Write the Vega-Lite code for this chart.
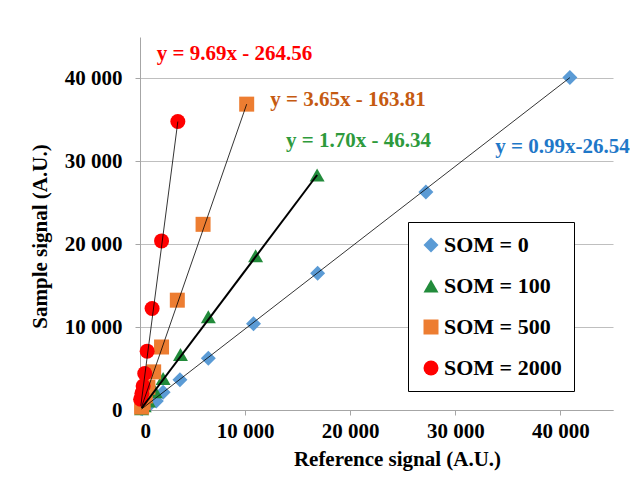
{
  "$schema": "https://vega.github.io/schema/vega-lite/v6.json",
  "width": 473,
  "height": 373,
  "autosize": {"type": "none"},
  "padding": {"left": 140, "top": 37, "right": 29, "bottom": 74},
  "background": "white",
  "config": {
    "view": {"stroke": null},
    "font": "Liberation Serif, Times New Roman, serif",
    "axis": {
      "labelFont": "Liberation Serif, Times New Roman, serif", "labelFontWeight": "bold", "labelFontSize": 21, "labelColor": "black",
      "titleFont": "Liberation Serif, Times New Roman, serif", "titleFontWeight": "bold", "titleFontSize": 21, "titleColor": "black",
      "domainColor": "#A6A6A6", "tickColor": "#A6A6A6", "tickSize": 5, "gridColor": "#BFBFBF", "gridWidth": 1
    }
  },
  "datasets": {
    "points": [
      {"series": "SOM = 0", "ref": 40900, "sample": 40100},
      {"series": "SOM = 0", "ref": 27200, "sample": 26300},
      {"series": "SOM = 0", "ref": 16900, "sample": 16500},
      {"series": "SOM = 0", "ref": 10800, "sample": 10400},
      {"series": "SOM = 0", "ref": 6500, "sample": 6250},
      {"series": "SOM = 0", "ref": 3800, "sample": 3650},
      {"series": "SOM = 0", "ref": 2200, "sample": 2150},
      {"series": "SOM = 0", "ref": 1550, "sample": 1100},
      {"series": "SOM = 0", "ref": 950, "sample": 700},
      {"series": "SOM = 0", "ref": 500, "sample": 400},
      {"series": "SOM = 0", "ref": 200, "sample": 150},
      {"series": "SOM = 100", "ref": 16850, "sample": 28350},
      {"series": "SOM = 100", "ref": 11000, "sample": 18600},
      {"series": "SOM = 100", "ref": 6500, "sample": 11250},
      {"series": "SOM = 100", "ref": 3850, "sample": 6700},
      {"series": "SOM = 100", "ref": 2200, "sample": 3800},
      {"series": "SOM = 100", "ref": 1450, "sample": 2200},
      {"series": "SOM = 100", "ref": 800, "sample": 1100},
      {"series": "SOM = 100", "ref": 400, "sample": 500},
      {"series": "SOM = 100", "ref": 150, "sample": 150},
      {"series": "SOM = 500", "ref": 10150, "sample": 36900},
      {"series": "SOM = 500", "ref": 6000, "sample": 22400},
      {"series": "SOM = 500", "ref": 3550, "sample": 13250},
      {"series": "SOM = 500", "ref": 2050, "sample": 7600},
      {"series": "SOM = 500", "ref": 1300, "sample": 4600},
      {"series": "SOM = 500", "ref": 750, "sample": 2750},
      {"series": "SOM = 500", "ref": 500, "sample": 1700},
      {"series": "SOM = 500", "ref": 300, "sample": 900},
      {"series": "SOM = 500", "ref": 150, "sample": 350},
      {"series": "SOM = 2000", "ref": 3600, "sample": 34800},
      {"series": "SOM = 2000", "ref": 2050, "sample": 20400},
      {"series": "SOM = 2000", "ref": 1150, "sample": 12250},
      {"series": "SOM = 2000", "ref": 680, "sample": 7100},
      {"series": "SOM = 2000", "ref": 450, "sample": 4400},
      {"series": "SOM = 2000", "ref": 300, "sample": 2900},
      {"series": "SOM = 2000", "ref": 180, "sample": 2000},
      {"series": "SOM = 2000", "ref": 60, "sample": 1300}
    ],
    "trend": [
      {"series": "SOM = 0", "ref": 150, "sample": 120},
      {"series": "SOM = 0", "ref": 40900, "sample": 40100},
      {"series": "SOM = 100", "ref": 150, "sample": 210},
      {"series": "SOM = 100", "ref": 16850, "sample": 28350},
      {"series": "SOM = 500", "ref": 150, "sample": 380},
      {"series": "SOM = 500", "ref": 10150, "sample": 36900},
      {"series": "SOM = 2000", "ref": 80, "sample": 510},
      {"series": "SOM = 2000", "ref": 3600, "sample": 34800}
    ],
    "labels": [
      {"series": "SOM = 2000", "label": "y = 9.69x - 264.56", "ref": 1600, "sample": 43000},
      {"series": "SOM = 500", "label": "y = 3.65x - 163.81", "ref": 12400, "sample": 37450},
      {"series": "SOM = 100", "label": "y = 1.70x - 46.34", "ref": 13900, "sample": 32450},
      {"series": "SOM = 0", "label": "y = 0.99x-26.54", "ref": 33800, "sample": 31700}
    ]
  },
  "encoding": {
    "x": {"field": "ref", "type": "quantitative",
      "scale": {"domain": [0, 45000], "nice": false},
      "axis": {"title": "Reference signal (A.U.)", "values": [0, 10000, 20000, 30000, 40000], "grid": false,
        "labelExpr": "replace(format(datum.value, ','), ',', ' ')", "labelPadding": 5, "titlePadding": 7, "titleX": 257}},
    "y": {"field": "sample", "type": "quantitative",
      "scale": {"domain": [0, 45000], "nice": false},
      "axis": {"title": "Sample signal (A.U.)", "values": [0, 10000, 20000, 30000, 40000], "grid": true,
        "labelExpr": "replace(format(datum.value, ','), ',', ' ')", "labelPadding": 13, "titlePadding": 14, "titleY": 199}}
  },
  "layer": [
    {
      "data": {"name": "points"},
      "mark": {"type": "point", "filled": true, "opacity": 1, "strokeWidth": 0},
      "encoding": {
        "color": {"field": "series", "type": "nominal",
          "scale": {"domain": ["SOM = 0", "SOM = 100", "SOM = 500", "SOM = 2000"], "range": ["#5B9BD5", "#228B3B", "#ED7D31", "#FF0000"]},
          "legend": {"title": null, "orient": "none", "legendX": 268, "legendY": 185,
            "strokeColor": "black", "fillColor": "white", "padding": 12,
            "labelFont": "Liberation Serif, Times New Roman, serif", "labelFontWeight": "bold", "labelFontSize": 22, "labelColor": "black",
            "rowPadding": 19, "symbolSize": 110, "symbolStrokeWidth": 0, "labelOffset": 2, "labelLimit": 300}},
        "shape": {"field": "series", "type": "nominal",
          "scale": {"domain": ["SOM = 0", "SOM = 100", "SOM = 500", "SOM = 2000"], "range": ["diamond", "triangle-up", "square", "circle"]},
          "legend": {"title": null, "orient": "none", "legendX": 268, "legendY": 185,
            "strokeColor": "black", "fillColor": "white", "padding": 12,
            "labelFont": "Liberation Serif, Times New Roman, serif", "labelFontWeight": "bold", "labelFontSize": 22, "labelColor": "black",
            "rowPadding": 19, "symbolSize": 110, "symbolStrokeWidth": 0, "labelOffset": 2, "labelLimit": 300}},
        "size": {"field": "series", "type": "nominal",
          "scale": {"domain": ["SOM = 0", "SOM = 100", "SOM = 500", "SOM = 2000"], "range": [225, 225, 150, 180]}, "legend": null}
      }
    },
    {
      "data": {"name": "trend"},
      "mark": {"type": "line", "color": "black"},
      "encoding": {
        "detail": {"field": "series"},
        "strokeWidth": {"condition": {"test": "datum.series === 'SOM = 100'", "value": 2}, "value": 0.8}
      }
    },
    {
      "data": {"name": "labels"},
      "mark": {"type": "text", "align": "left", "baseline": "middle", "font": "Liberation Serif, Times New Roman, serif", "fontWeight": "bold", "fontSize": 21},
      "encoding": {
        "text": {"field": "label"},
        "color": {"condition": [
          {"test": "datum.series === 'SOM = 0'", "value": "#1F78C8"},
          {"test": "datum.series === 'SOM = 100'", "value": "#2E9A3C"},
          {"test": "datum.series === 'SOM = 500'", "value": "#C55A11"}
        ], "value": "#FF0000"}
      }
    }
  ]
}
